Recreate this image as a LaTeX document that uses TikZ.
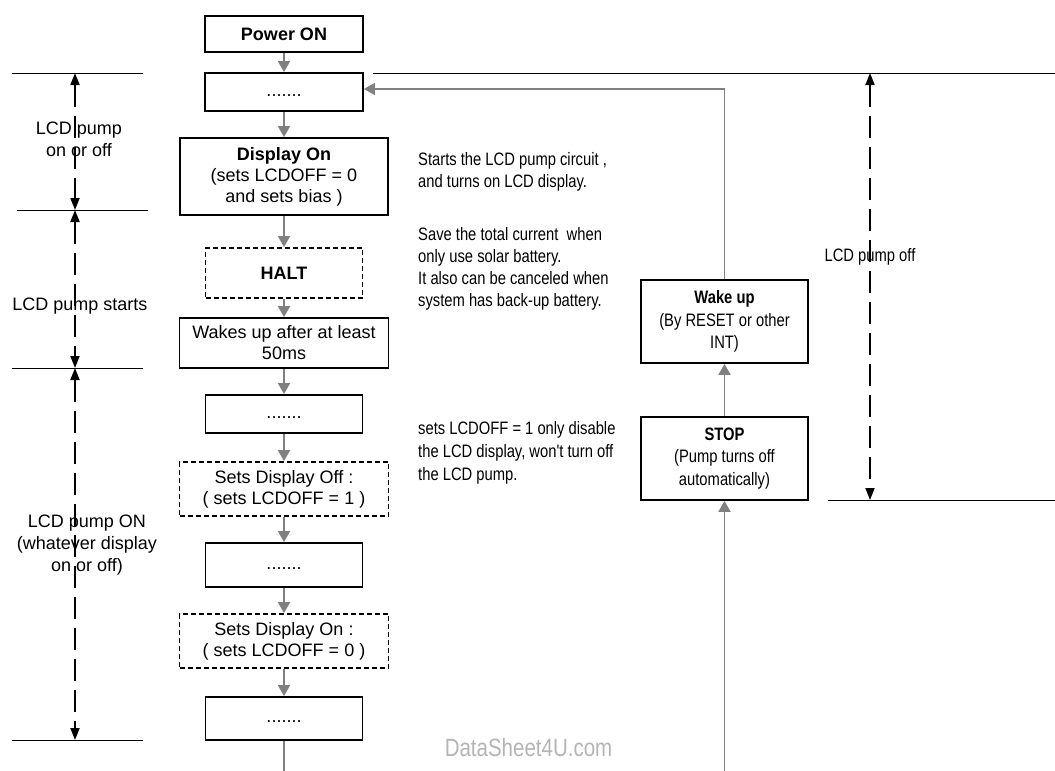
\documentclass[tikz,border=0pt]{standalone}
\usepackage{fontspec}
\setmainfont{Liberation Sans}
\newfontfamily\narrowfont{Liberation Sans}[FakeStretch=0.82]
\usetikzlibrary{arrows.meta}
\definecolor{connc}{RGB}{128,128,128}
\definecolor{wmark}{RGB}{180,180,180}
\begin{document}
\begin{tikzpicture}[x=1pt,y=-1pt,
  box/.style={draw=black,line width=1.8pt,inner sep=0pt,align=center,font=\fontsize{18}{21}\selectfont},
  dbox/.style={box,dash pattern=on 5pt off 3pt},
  nbox/.style={box,font=\narrowfont\fontsize{18}{22.5}\selectfont},
  conn/.style={draw=connc,line width=1.8pt,-{Triangle[length=11pt,width=12pt]}},
  plainconn/.style={draw=connc,line width=1.8pt},
  hline/.style={draw=black,line width=1pt},
  dim/.style={draw=black,line width=1.8pt,dash pattern=on 22pt off 9pt,{Triangle[length=12pt,width=9pt]}-{Triangle[length=12pt,width=9pt]}},
  lbl/.style={inner sep=0pt,align=center,font=\fontsize{18}{22}\selectfont},
  note/.style={inner sep=0pt,align=left,anchor=west,font=\narrowfont\fontsize{18}{22}\selectfont},
]
\useasboundingbox (0,0) rectangle (1055,771);

% left column
\node[box,minimum width=158pt,minimum height=36pt] (power) at (284,34) {\textbf{Power ON}};
\node[box,minimum width=158pt,minimum height=38pt] (d1) at (284,92) {\strut .......};
\node[box,minimum width=208pt,minimum height=77pt] (disp) at (284,176.5) {\textbf{Display On}\\(sets LCDOFF = 0\\and sets bias )};
\node[dbox,minimum width=157pt,minimum height=50pt] (halt) at (284,273) {\textbf{HALT}};
\node[box,minimum width=209pt,minimum height=50pt] (wk50) at (284,343) {Wakes up after at least\\50ms};
\node[box,minimum width=157pt,minimum height=38pt] (d2) at (284,414) {\strut .......};
\node[dbox,minimum width=209pt,minimum height=54pt] (soff) at (284,489) {Sets Display Off :\\( sets LCDOFF = 1 )};
\node[box,minimum width=157pt,minimum height=44pt] (d3) at (284,565) {\strut .......};
\node[dbox,minimum width=209pt,minimum height=54pt] (son) at (284,641) {Sets Display On :\\( sets LCDOFF = 0 )};
\node[box,minimum width=157pt,minimum height=43pt] (d4) at (284,718.5) {\strut .......};

% right column
\node[nbox,minimum width=167pt,minimum height=83pt] (wake) at (724.5,321.5) {\textbf{Wake up}\\(By RESET or other\\INT)};
\node[nbox,minimum width=167pt,minimum height=83pt] (stop) at (724.5,458.5) {\textbf{STOP}\\(Pump turns off\\automatically)};

% connectors
\draw[conn] (power) -- (d1);
\draw[conn] (d1) -- (disp);
\draw[conn] (disp) -- (halt);
\draw[conn] (halt) -- (wk50);
\draw[conn] (wk50) -- (d2);
\draw[conn] (d2) -- (soff);
\draw[conn] (soff) -- (d3);
\draw[conn] (d3) -- (son);
\draw[conn] (son) -- (d4);
\coordinate (lb) at (284,771);
\draw[plainconn] (d4.south) -- (lb);
\coordinate (rb) at (724.5,771);
\draw[conn] (rb) -- (stop.south);
\draw[conn] (stop) -- (wake);
\coordinate (ret) at (724.5,89);
\draw[conn] (wake.north) -- (ret) -- (d1.east |- ret);

% horizontal reference lines
\coordinate (a1) at (12,73);  \coordinate (a2) at (143,73);
\coordinate (b1) at (17,210); \coordinate (b2) at (148,210);
\coordinate (c1) at (12,368); \coordinate (c2) at (143,368);
\coordinate (e1) at (12,740); \coordinate (e2) at (143,740);
\coordinate (f1) at (373,73); \coordinate (f2) at (1055,73);
\coordinate (g1) at (828,500); \coordinate (g2) at (1055,500);
\draw[hline] (a1) -- (a2);
\draw[hline] (b1) -- (b2);
\draw[hline] (c1) -- (c2);
\draw[hline] (e1) -- (e2);
\draw[hline] (f1) -- (f2);
\draw[hline] (g1) -- (g2);

% dimension arrows
\coordinate (m1) at (75,73);
\coordinate (m2) at (75,210);
\coordinate (m3) at (75,368);
\coordinate (m4) at (75,740);
\coordinate (n1) at (870,73);
\coordinate (n2) at (870,500);
\draw[dim] (m1) -- (m2);
\draw[dim] (m2) -- (m3);
\draw[dim] (m3) -- (m4);
\draw[dim] (n1) -- (n2);

% labels
\node[lbl] (t1) at (79,139) {LCD pump\\on or off};
\node[lbl] (t2) at (80,306) {LCD pump starts};
\node[lbl] (t3) at (87,545) {LCD pump ON\\(whatever display\\on or off)};
\node[lbl,font=\narrowfont\fontsize{18}{22}\selectfont] (t4) at (870,257) {LCD pump off};

% notes
\node[note] (n1t) at (418,171.5) {Starts the LCD pump circuit ,\\and turns on LCD display.};
\node[note] (n2t) at (418,269) {Save the total current\ \ when\\only use solar battery.\\It also can be canceled when\\system has back-up battery.};
\node[note,font=\narrowfont\fontsize{18}{23}\selectfont] (n3t) at (418,453) {sets LCDOFF = 1 only disable\\the LCD display, won't turn off\\the LCD pump.};

% watermark
\node[inner sep=0pt,text=wmark,font=\narrowfont\fontsize{25}{28}\selectfont] (wm) at (528.5,748) {DataSheet4U.com};
\end{tikzpicture}
\end{document}
